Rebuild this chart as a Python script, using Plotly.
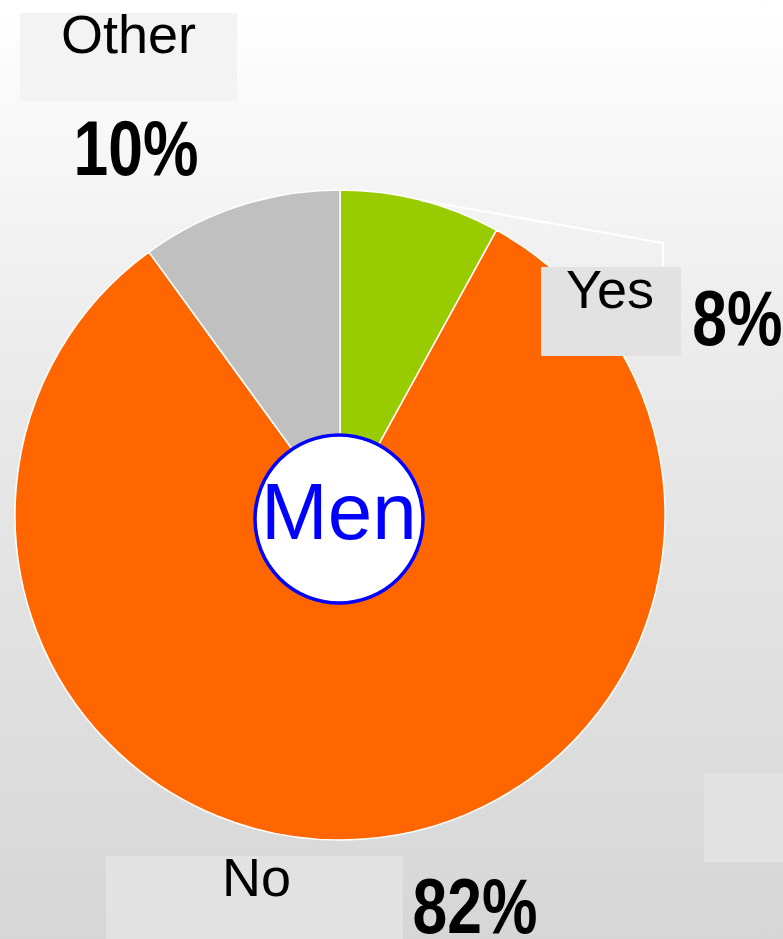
import math
import plotly.graph_objects as go

W, H = 783, 939

# ---- data ----
categories = ["Yes", "No", "Other"]
values = [8, 82, 10]
pct_labels = ["8%", "82%", "10%"]
slice_colors = ["#99CC00", "#FF6600", "#C0C0C0"]
center_label = "Men"


def px(x):
    return x / W


def py(y):
    return 1 - y / H


fig = go.Figure()

# background gradient
fig.add_trace(go.Scatter(
    x=[0, 1, 1, 0, 0], y=[0, 0, 1, 1, 0], mode="lines", line=dict(width=0),
    fill="toself",
    fillgradient=dict(type="vertical",
                      colorscale=[[0, "#D6D6D6"], [0.6, "#EAEAEA"], [1, "#FFFFFF"]]),
    hoverinfo="skip", showlegend=False))

# pie geometry (pixels)
cx, cy, R = 340, 515, 325

fig.add_trace(go.Pie(
    labels=categories, values=values, sort=False, direction="clockwise",
    rotation=0, marker=dict(colors=slice_colors, line=dict(color="white", width=1.5)),
    textinfo="none", hoverinfo="skip", showlegend=False,
    domain=dict(x=[px(cx - R), px(cx + R)], y=[py(cy + R), py(cy - R)])))

shapes = []
# label boxes
boxes = [
    (20, 13, 237, 101, "#F3F3F3"),
    (541, 267, 681, 356, "#E2E2E2"),
    (106, 856, 403, 945, "#E2E2E2"),
    (704, 773, 790, 862, "#E2E2E2"),
]
for x0, y0, x1, y1, c in boxes:
    shapes.append(dict(type="rect", xref="paper", yref="paper",
                       x0=px(x0), x1=px(x1), y0=py(y1), y1=py(y0),
                       fillcolor=c, line=dict(width=0), layer="above"))

# leader line for "Yes" from mid-angle of its slice
total = sum(values)
mid = (values[0] / 2) / total * 2 * math.pi
sx, sy = cx + R * math.sin(mid), cy - R * math.cos(mid)
path = f"M {px(sx)},{py(sy)} L {px(663)},{py(243)} L {px(663)},{py(266)}"
shapes.append(dict(type="path", xref="paper", yref="paper", path=path,
                   line=dict(color="white", width=2), layer="above"))

# center circle
ccx, ccy, cr = 339, 519, 84
shapes.append(dict(type="circle", xref="paper", yref="paper",
                   x0=px(ccx - cr), x1=px(ccx + cr), y0=py(ccy + cr), y1=py(ccy - cr),
                   fillcolor="white", line=dict(color="#0000FF", width=3.5), layer="above"))

ann = []
lab_font = dict(family="Liberation Sans, Arial, sans-serif", size=54, color="black")
pct_font = dict(family="Liberation Sans, Arial, sans-serif",
                size=78, color="black", weight="bold")


def add_text(text, x, y, font):
    ann.append(dict(text=text, x=px(x), y=py(y), xref="paper", yref="paper",
                    xanchor="center", yanchor="middle", showarrow=False, font=font))


add_text(categories[2], 128, 34, lab_font)
add_text(pct_labels[2], 135.5, 148, pct_font)
add_text(categories[0], 610, 289, lab_font)
add_text(pct_labels[0], 737.5, 318, pct_font)
add_text(categories[1], 256, 877, lab_font)
add_text(pct_labels[1], 474.5, 906, pct_font)
add_text(center_label, 339, 511,
         dict(family="Liberation Sans, Arial, sans-serif", size=80, color="#0000FF"))

fig.update_layout(
    width=W, height=H, margin=dict(l=0, r=0, t=0, b=0),
    paper_bgcolor="white", plot_bgcolor="rgba(0,0,0,0)",
    xaxis=dict(range=[0, 1], visible=False, fixedrange=True),
    yaxis=dict(range=[0, 1], visible=False, fixedrange=True),
    shapes=shapes, annotations=ann, showlegend=False)

post = """
document.body.style.margin='0';
document.body.style.overflow='hidden';
document.querySelectorAll('text.annotation-text').forEach(function(t){
  if (t.textContent.trim().endsWith('%')) {
    t.style.transformBox='fill-box';
    t.style.transformOrigin='center';
    t.style.transform='scaleX(0.8)';
  }
});
"""
fig.write_html("out.html", post_script=post, config={"displayModeBar": False})
